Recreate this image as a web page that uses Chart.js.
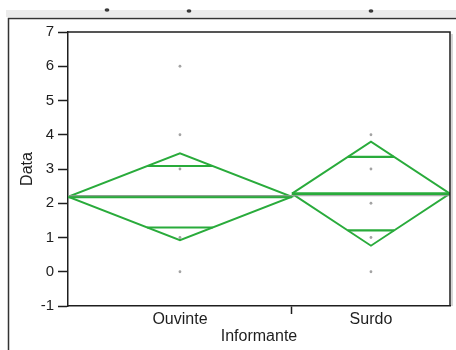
<!DOCTYPE html>
<html>
<head>
<meta charset="utf-8">
<script src="https://cdn.jsdelivr.net/npm/chart.js@4/dist/chart.umd.min.js"></script>
<style>
  html, body { margin: 0; padding: 0; background: #fff; }
  #wrap { width: 456px; height: 350px; }
</style>
</head>
<body>
<div id="wrap"><canvas id="c" width="456" height="350"></canvas></div>
<script>
// One-way means diamonds: Data by Informante
const categories = ['Ouvinte', 'Surdo'];
const groupCounts = [17, 12];
const groupMeans = [2.19, 2.28];
const ciHalfWidths = [1.27, 1.52];
const grandMean = 2.22;
const ouvintePoints = [6, 4, 3, 1, 0];
const surdoPoints = [4, 3, 2, 1, 0];
const yTicks = [-1, 0, 1, 2, 3, 4, 5, 6, 7];

const GREEN = '#29ab3b';
const INK = '#1e1e1e';
const FONT = '"Liberation Sans", Arial, Helvetica, sans-serif';

const total = groupCounts.reduce((a, b) => a + b, 0);
const starts = [];
let acc = 0;
groupCounts.forEach(n => { starts.push(acc); acc += n; });
const centers = groupCounts.map((n, i) => starts[i] + n / 2);
const groupPoints = [ouvintePoints, surdoPoints];

const datasets = [];
// grand mean reference line
datasets.push({
  data: [{ x: 0, y: grandMean }, { x: total, y: grandMean }],
  showLine: true, borderColor: '#9a9a9a', borderWidth: 1, pointRadius: 0
});
categories.forEach((cat, i) => {
  const x0 = starts[i], x1 = starts[i] + groupCounts[i], xc = centers[i];
  const m = groupMeans[i], c = ciHalfWidths[i];
  // diamond outline
  datasets.push({
    data: [{ x: x0, y: m }, { x: xc, y: m + c }, { x: x1, y: m }, { x: xc, y: m - c }, { x: x0, y: m }],
    showLine: true, borderColor: GREEN, borderWidth: 1.9, pointRadius: 0, tension: 0
  });
  // group mean line
  datasets.push({
    data: [{ x: x0, y: m }, { x: x1, y: m }],
    showLine: true, borderColor: GREEN, borderWidth: 2.8, pointRadius: 0
  });
  // overlap marks at mean +/- ci/sqrt(2)
  const d = c / Math.SQRT2;
  const hw = (groupCounts[i] / 2) * (1 - 1 / Math.SQRT2);
  [m + d, m - d].forEach(yv => {
    datasets.push({
      data: [{ x: xc - hw, y: yv }, { x: xc + hw, y: yv }],
      showLine: true, borderColor: GREEN, borderWidth: 2.2, pointRadius: 0
    });
  });
  // raw observations
  datasets.push({
    data: groupPoints[i].map(v => ({ x: xc, y: v })),
    showLine: false, pointRadius: 1.4, pointBackgroundColor: '#a3a3a3',
    pointBorderWidth: 0, borderColor: 'transparent'
  });
});

const frame = {
  id: 'frame',
  beforeDraw(chart) {
    const ctx = chart.ctx;
    ctx.save();
    ctx.fillStyle = '#fff';
    ctx.fillRect(0, 0, chart.width, chart.height);
    // header strip
    ctx.fillStyle = '#ebebeb';
    ctx.fillRect(6, 10, chart.width - 6, 7);
    ctx.fillStyle = '#3a3a3a';
    [[107, 8], [189, 9], [371, 9]].forEach(([x, y]) => {
      ctx.beginPath();
      ctx.ellipse(x, y + 2, 2.4, 1.7, 0, 0, Math.PI * 2);
      ctx.fill();
    });
    // outer panel border
    ctx.strokeStyle = '#333';
    ctx.lineWidth = 1.5;
    ctx.beginPath();
    ctx.moveTo(8.5, chart.height);
    ctx.lineTo(8.5, 18.5);
    ctx.lineTo(chart.width, 18.5);
    ctx.stroke();
    ctx.restore();
  },
  afterDraw(chart) {
    const { left, right, top, bottom } = chart.chartArea;
    const ctx = chart.ctx;
    ctx.save();
    ctx.strokeStyle = '#c8c8c8';
    ctx.lineWidth = 1.5;
    ctx.beginPath();
    ctx.moveTo(right + 2, top + 2);
    ctx.lineTo(right + 2, bottom);
    ctx.stroke();
    ctx.strokeStyle = INK;
    ctx.lineWidth = 1.5;
    ctx.beginPath();
    ctx.moveTo(left, top);
    ctx.lineTo(right, top);
    ctx.lineTo(right, bottom);
    ctx.stroke();
    ctx.restore();
  }
};

new Chart(document.getElementById('c'), {
  type: 'scatter',
  data: { datasets },
  options: {
    responsive: false,
    animation: false,
    devicePixelRatio: 1,
    layout: { padding: { left: 0, top: 32, right: 6, bottom: 0 } },
    plugins: { legend: { display: false }, tooltip: { enabled: false } },
    scales: {
      x: {
        type: 'linear', min: 0, max: total,
        afterBuildTicks(scale) {
          scale.ticks = [{ value: centers[0] }, { value: starts[1] }, { value: centers[1] }];
        },
        afterFit(scale) { scale.height = 44; },
        ticks: {
          autoSkip: false, maxRotation: 0, color: INK, padding: -4,
          font: { family: FONT, size: 16 },
          callback: (v, idx) => idx === 0 ? categories[0] : idx === 2 ? categories[1] : ''
        },
        grid: {
          drawOnChartArea: false, drawTicks: true, tickLength: 8,
          tickWidth: 1.5,
          tickColor: ctx => ctx.index === 1 ? INK : 'rgba(0,0,0,0)'
        },
        border: { display: true, color: INK, width: 1.5 },
        title: {
          display: true, text: 'Informante', color: INK,
          font: { family: FONT, size: 16 }, padding: { top: 0, bottom: 3.4 }
        }
      },
      y: {
        type: 'linear', min: -1, max: 7,
        afterBuildTicks(scale) { scale.ticks = yTicks.map(v => ({ value: v })); },
        afterFit(scale) { scale.width = 68; },
        ticks: { color: INK, padding: 4, font: { family: FONT, size: 15 } },
        grid: { drawOnChartArea: false, drawTicks: true, tickLength: 10, tickColor: INK, tickWidth: 1.5 },
        border: { display: true, color: INK, width: 1.5 },
        title: {
          display: true, text: 'Data', color: INK,
          font: { family: FONT, size: 16 }, padding: { top: 18.4, bottom: 0 }
        }
      }
    }
  },
  plugins: [frame]
});
</script>
</body>
</html>
